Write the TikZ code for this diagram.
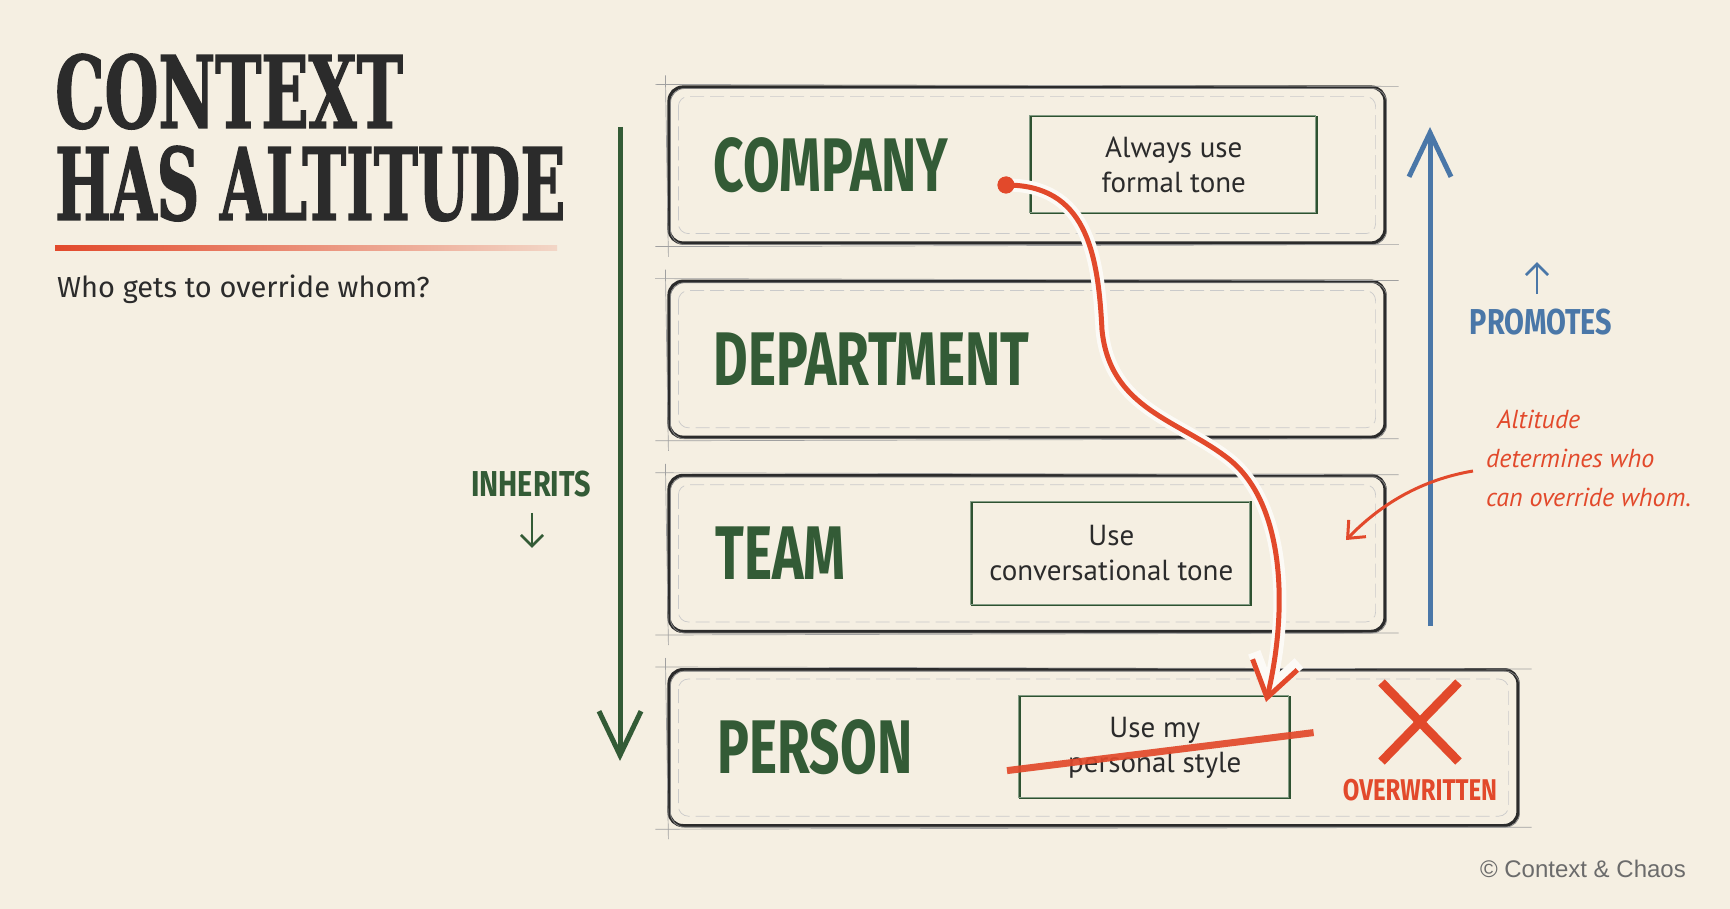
\documentclass[tikz,border=0pt]{standalone}
\usepackage{fontspec}
\setmainfont{PT Sans}
\newfontfamily\titlefont[FakeStretch=0.62,FakeBold=1.2]{DejaVu Serif}
\newfontfamily\titlefontb[FakeStretch=0.59,FakeBold=1.2]{DejaVu Serif}
\newfontfamily\lvlfont[FakeStretch=0.7]{Fira Sans}
\newfontfamily\tagfont[FakeStretch=0.8]{Fira Sans}
\newfontfamily\subfont{Fira Sans}
\newfontfamily\signfont{Liberation Sans}
\usetikzlibrary{arrows.meta,positioning,shapes.misc}

\definecolor{paper}{HTML}{F5EFE2}
\definecolor{ink}{HTML}{2B2B2B}
\definecolor{leaf}{HTML}{335B36}
\definecolor{accent}{HTML}{E2492B}
\definecolor{sky}{HTML}{4A77A8}

\begin{document}
\begin{tikzpicture}[x=1pt,y=-1pt,
  title/.style={font=\titlefont\bfseries\fontsize{100}{92}\selectfont,text=ink,inner sep=0pt,anchor=base west},
  level/.style={draw=ink,line width=3.2pt,rounded corners=14pt,minimum width=716pt,minimum height=156pt,inner sep=0pt,
    postaction={draw=ink!60,line width=.8pt,transform canvas={shift={(1.5pt,-1.5pt)}}}},
  lvlname/.style={text=leaf,font=\lvlfont\bfseries\fontsize{76}{76}\selectfont,inner sep=0pt},
  rule/.style={draw=leaf!90!black,line width=1.6pt,align=center,inner sep=0pt,text=ink,font=\fontsize{29}{35}\selectfont,
    postaction={draw=leaf!60,line width=.6pt,transform canvas={shift={(-1.5pt,1pt)}}}},
  pencil/.style={draw=ink!45,line width=.7pt},
  tag/.style={font=\tagfont\bfseries\fontsize{36}{36}\selectfont,inner sep=0pt},
  aside/.style={text=accent,font=\itshape\fontsize{26}{39}\selectfont,align=left,inner sep=0pt},
  bigarrow/.style={line width=5pt,-{Straight Barb[length=44pt,width=42pt]}},
  smallarrow/.style={line width=2.6pt,-{Straight Barb[length=11pt,width=22pt]}},
  override/.style={draw=accent,line width=5pt,-{Straight Barb[length=34pt,width=46pt]},
    preaction={draw=white!70!paper,line width=13pt}},
  dot/.style={circle,fill=accent,minimum size=17pt,inner sep=0pt}]

 % paper
 \fill[paper] (0,0) rectangle (1730,909);
 \useasboundingbox (0,0) rectangle (1730,909);

 % heading
 \node[title] (title1) at (55,128) {CONTEXT};
 \node[title,font=\titlefontb\bfseries\fontsize{100}{92}\selectfont] (title2) at (55,220) {HAS ALTITUDE};
 \shade[left color=accent,right color=accent!15!paper] (55,246) rectangle (557,251);
 \node[anchor=base west,inner sep=0pt,text=ink,font=\subfont\fontsize{29}{29}\selectfont] (question) at (57,298) {Who gets to override whom?};

 % the four levels
 \node[level] (company) at (1027,165) {};
 \node[level,below=35pt of company] (department) {};
 \node[level,below=35pt of department] (team) {};
 \node[level,minimum width=849pt,below right=35pt and 0pt of team.south west] (person) {};

 \foreach \lv in {company,department,team,person}{
   \draw[pencil,draw=ink!25,rounded corners=10pt,dash pattern=on 14pt off 6pt] ([shift={(11,11)}]\lv.north west) rectangle ([shift={(-11,-11)}]\lv.south east);
   \draw[pencil] ([shift={(-12,-1)}]\lv.north west) -- ([shift={(12,1)}]\lv.north east);
   \draw[pencil] ([shift={(-12,2)}]\lv.south west) -- ([shift={(12,0)}]\lv.south east);
   \draw[pencil] ([shift={(-2,-10)}]\lv.north west) -- ([shift={(1,12)}]\lv.south west);
 }

 \node[lvlname,right=46pt of company.west] (companyname) {COMPANY};
 \node[lvlname,right=46pt of department.west] (departmentname) {DEPARTMENT};
 \node[lvlname,right=48pt of team.west] (teamname) {TEAM};
 \node[lvlname,right=50pt of person.west] (personname) {PERSON};

 % rules set at each level
 \node[rule,minimum width=286pt,minimum height=97pt,left=69pt of company.east] (formal) {Always use\\formal tone};
 \node[rule,minimum width=279pt,minimum height=103pt,left=135pt of team.east] (casual) {Use\\conversational tone};
 \node[rule,minimum width=270pt,minimum height=102pt,left=229pt of person.east] (own) {Use my\\personal style};

 % side arrows
 \coordinate (inhtop) at (620,127);
 \coordinate (inhend) at (620,761);
 \draw[bigarrow,leaf] (inhtop) -- (inhend);
 \node[tag,text=leaf] (inherits) at (531,484.5) {INHERITS};
 \draw[smallarrow,leaf] ([shift={(1,15)}]inherits.south) -- ++(0,35);

 \coordinate (probase) at (1430,626);
 \coordinate (protop) at (1430,127);
 \draw[bigarrow,sky] (probase) -- (protop);
 \node[tag,text=sky] (promotes) at (1541,322.5) {PROMOTES};
 \draw[smallarrow,sky] ([shift={(-4,-15)}]promotes.north) -- ++(0,-32);

 % the override
 \node[dot] (start) at (1006,185) {};
 \coordinate (hit) at (1266,702);
 \draw[override] (start.center) .. controls (1085,185) and (1098,250) .. (1102,330)
   .. controls (1110,410) and (1180,420) .. (1230,460)
   .. controls (1285,505) and (1288,610) .. (hit);
 \node[dot] at (start) {};
 \draw[draw=accent,line width=7pt,opacity=.92] ([shift={(-12,23)}]own.west) -- ([shift={(23,-15)}]own.east);

 \node[cross out,draw=accent,line width=9pt,minimum width=77pt,minimum height=79pt,inner sep=0pt,outer sep=0pt] (veto) at (1420,722) {};
 \node[tag,text=accent,font=\tagfont\bfseries\fontsize{30}{30}\selectfont,below=17pt of veto] (overwritten) {OVERWRITTEN};

 % note on the side
 \node[aside,anchor=west] (remark) at (1486,458) {\hspace*{11pt}Altitude\\determines who\\can override whom.};
 \coordinate (aim) at (1346,540);
 \draw[accent,line width=3pt,-{Straight Barb[length=14pt,width=24pt]}] ([shift={(-13,13)}]remark.west) .. controls (1420,480) and (1380,505) .. (aim);

 \node[anchor=base east,inner sep=0pt,text=ink!70,font=\signfont\fontsize{24}{24}\selectfont] (sign) at (1686,877) {© Context \& Chaos};

\end{tikzpicture}
\end{document}
